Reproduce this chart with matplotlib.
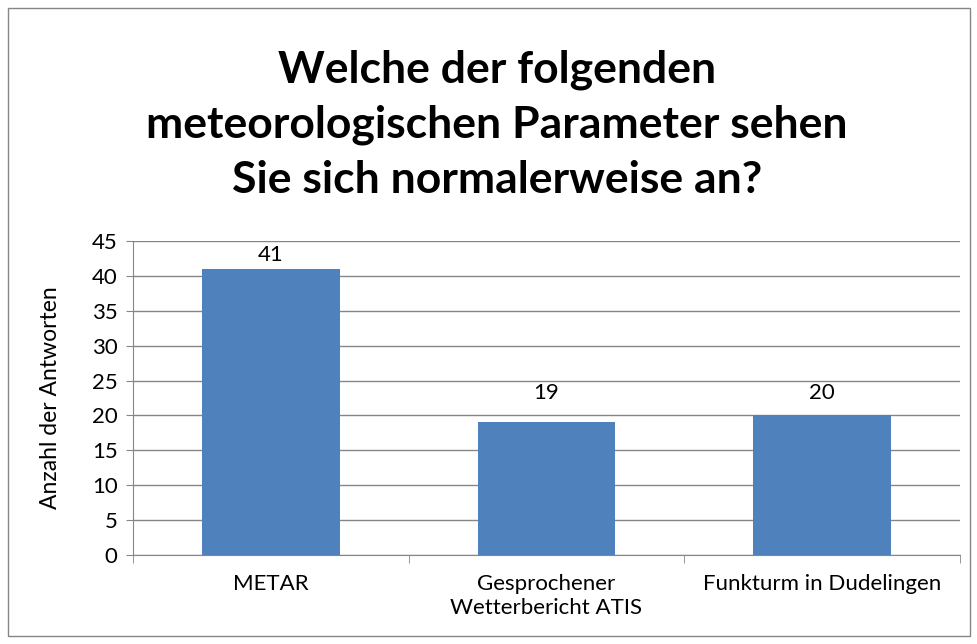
import matplotlib
matplotlib.use("Agg")
import matplotlib.pyplot as plt
import matplotlib.patches as mpatches

categories = ["METAR", "Gesprochener\nWetterbericht ATIS", "Funkturm in Dudelingen"]
values = [41, 19, 20]
yticks = list(range(0, 50, 5))

title = "Welche der folgenden\nmeteorologischen Parameter sehen\nSie sich normalerweise an?"
ylabel = "Anzahl der Antworten"

plt.rcParams["font.family"] = ["Lato", "DejaVu Sans"]

BAR = "#4F81BD"
GRID = "#868686"
FS = 16

# data labels sit a bit above the bars (as in the source chart)
label_offset = [2.0, 4.2, 3.2]

fig = plt.figure(figsize=(9.78, 6.44), dpi=100, facecolor="white")
fig.patches.append(mpatches.Rectangle((8 / 978, 8 / 644), 962 / 978, 628 / 644,
                                      transform=fig.transFigure, fill=False,
                                      edgecolor=GRID, linewidth=1))

ax = fig.add_axes([133 / 978, 89 / 644, 827 / 978, 314 / 644])
x = list(range(len(categories)))
bars = ax.bar(x, values, width=0.5, color=BAR, zorder=3)
ax.set_xlim(-0.5, len(categories) - 0.5)
ax.set_ylim(0, 45)
ax.set_yticks(yticks)
ax.yaxis.grid(True, color=GRID, linewidth=1, zorder=0)
for s in ["top", "right"]:
    ax.spines[s].set_visible(False)
for s in ["left", "bottom"]:
    ax.spines[s].set_color(GRID)
ax.tick_params(axis="y", length=5, color=GRID, labelsize=FS, pad=6)
ax.set_xticks(x)
ax.set_xticklabels(categories, fontsize=FS, linespacing=1.25)
ax.tick_params(axis="x", length=0, pad=14)
ax.set_xticks([i - 0.5 for i in range(len(categories) + 1)], minor=True)
ax.tick_params(axis="x", which="minor", length=6, color=GRID)

for b, v, off in zip(bars, values, label_offset):
    ax.text(b.get_x() + b.get_width() / 2, v + off, str(v), ha="center", va="center",
            fontsize=FS)

ax.set_ylabel(ylabel, fontsize=FS + 0.5, labelpad=22)

fig.text(0.508, 0.806, title, ha="center", va="center", fontsize=32,
         fontweight="bold", linespacing=1.45)

fig.savefig("out.png", dpi=100, facecolor="white")
